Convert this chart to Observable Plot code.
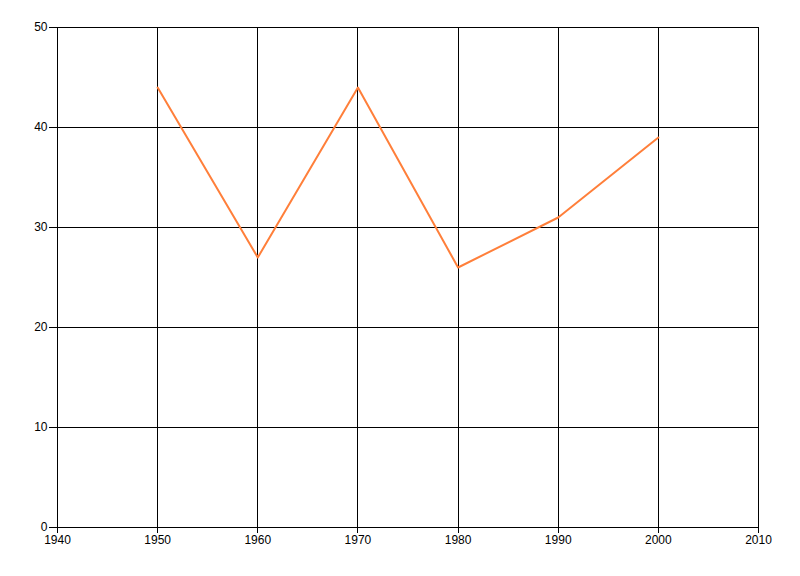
<!DOCTYPE html>
<html>
<head>
<meta charset="utf-8">
<script src="https://cdn.jsdelivr.net/npm/d3@7"></script>
<script src="https://cdn.jsdelivr.net/npm/@observablehq/plot@0.6"></script>
<style>
  body { margin: 0; background: #fff; }
  svg { display: block; }
  .grid line, .grid path { shape-rendering: crispEdges; }
</style>
</head>
<body>
<div id="chart"></div>
<script>
const years = [1950, 1960, 1970, 1980, 1990, 2000];
const values = [44, 27, 44, 26, 31, 39];
const xTicks = [1940, 1950, 1960, 1970, 1980, 1990, 2000, 2010];
const yTicks = [0, 10, 20, 30, 40, 50];

const data = years.map((y, i) => ({year: y, value: values[i]}));

const chart = Plot.plot({
  width: 800,
  height: 576,
  marginLeft: 57,
  marginTop: 27,
  marginRight: 42,
  marginBottom: 49,
  style: {fontFamily: "'Liberation Sans', Arial, sans-serif", fontSize: "12px", background: "#fff", color: "#000"},
  x: {domain: [1940, 2010], ticks: xTicks, tickFormat: d => String(d), label: null},
  y: {domain: [0, 50], ticks: yTicks, label: null},
  marks: [
    Plot.ruleX(xTicks, {stroke: "#000", strokeWidth: 1, strokeOpacity: 1, className: "grid"}),
    Plot.ruleY(yTicks, {stroke: "#000", strokeWidth: 1, strokeOpacity: 1, className: "grid"}),
    Plot.axisX({ticks: xTicks, tickSize: 6, tickPadding: 2, tickFormat: d => String(d), label: null, className: "grid"}),
    Plot.axisY({ticks: yTicks, tickSize: 8, tickPadding: 2, label: null, className: "grid"}),
    Plot.line(data, {x: "year", y: "value", stroke: "#ff7f3a", strokeWidth: 2})
  ]
});
document.getElementById("chart").appendChild(chart);
</script>
</body>
</html>
